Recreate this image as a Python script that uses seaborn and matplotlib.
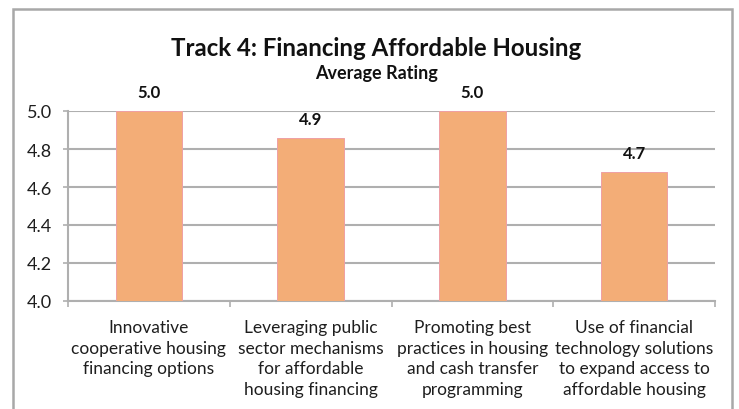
import matplotlib
matplotlib.use("Agg")
import matplotlib.pyplot as plt
from matplotlib.patches import Rectangle
import seaborn as sns
import pandas as pd

categories = [
    "Innovative\ncooperative housing\nfinancing options",
    "Leveraging public\nsector mechanisms\nfor affordable\nhousing financing",
    "Promoting best\npractices in housing\nand cash transfer\nprogramming",
    "Use of financial\ntechnology solutions\nto expand access to\naffordable housing",
]
ratings = [5.0, 4.86, 5.0, 4.68]
y_ticks = [4.0, 4.2, 4.4, 4.6, 4.8, 5.0]

sns.set_theme(style="white")
plt.rcParams["font.family"] = ["Lato", "DejaVu Sans"]

W, H = 739, 410
fig = plt.figure(figsize=(W / 100, H / 100), dpi=100)
ax = fig.add_axes([68 / W, 1 - 302 / H, (715 - 68) / W, (302 - 112) / H])

df = pd.DataFrame({"category": categories, "rating": ratings})
sns.barplot(data=df, x="category", y="rating", color="#F3AD77", saturation=1,
            width=0.41, edgecolor="#EFA0A4", linewidth=0.7, ax=ax, zorder=3)

ax.set_ylim(4.0, 5.0)
ax.set_xlim(-0.5, len(categories) - 0.5)
ax.set_yticks(y_ticks)
ax.set_yticklabels([f"{t:.1f}" for t in y_ticks], fontsize=13, color="#1E1E1E")
ax.yaxis.grid(True, color="#AFAFAF", linewidth=1.5, zorder=0)
ax.set_axisbelow(True)

# category labels centered, tick marks on category boundaries
ax.set_xticks(range(len(categories)))
ax.set_xticklabels(categories, fontsize=12.5, color="#1E1E1E", linespacing=1.36)
ax.tick_params(axis="x", length=0, pad=13)
ax.set_xticks([i - 0.5 for i in range(len(categories) + 1)], minor=True)
ax.tick_params(axis="x", which="minor", length=4, width=1.2, color="#AFAFAF", bottom=True)
ax.tick_params(axis="y", length=3.6, width=1.2, color="#AFAFAF", left=True, pad=8)

for side in ["top", "right"]:
    ax.spines[side].set_visible(False)
for side in ["left", "bottom"]:
    ax.spines[side].set_color("#AFAFAF")
    ax.spines[side].set_linewidth(1.5)

ax.set_xlabel("")
ax.set_ylabel("")

for i, v in enumerate(ratings):
    ax.annotate(f"{v:.1f}", (i, v), xytext=(0, 10), textcoords="offset points",
                ha="center", va="baseline", fontsize=12, fontweight="bold",
                color="#111111", annotation_clip=False)

fig.text(376.5 / W, 1 - 56 / H, "Track 4: Financing Affordable Housing",
         ha="center", va="baseline", fontsize=17.3, fontweight="bold", color="#111111")
fig.text(376.5 / W, 1 - 79 / H, "Average Rating",
         ha="center", va="baseline", fontsize=13, fontweight="bold", color="#111111")

# chart frame
fig.patches.append(Rectangle((13 / W, -0.05), (732 - 13) / W, 1 - 10 / H + 0.05,
                             transform=fig.transFigure, fill=False,
                             edgecolor="#A8A8A8", linewidth=1.8))

fig.savefig("out.png", dpi=100)
